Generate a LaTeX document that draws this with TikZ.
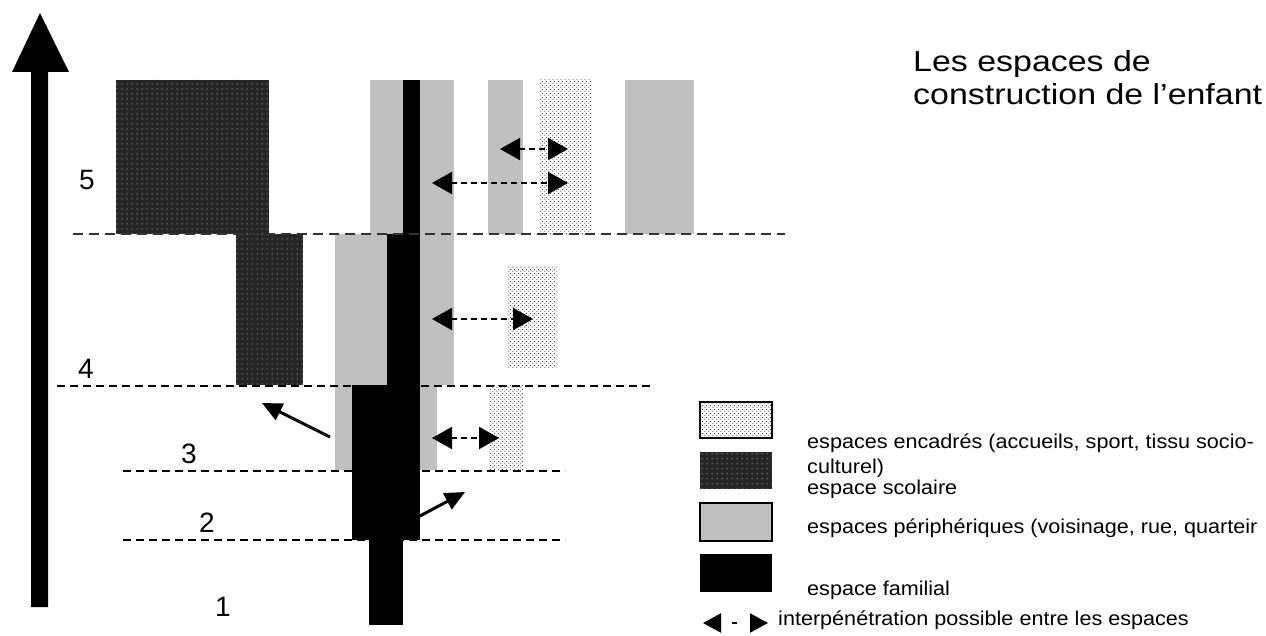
\documentclass[tikz,border=0pt]{standalone}
\usepackage{fontspec}
\setmainfont{Liberation Sans}
\usetikzlibrary{arrows.meta,patterns}
\definecolor{pgray}{HTML}{C0C0C0}
\definecolor{pdark}{HTML}{262626}
\pgfdeclarepatternformonly{lightdots}{\pgfqpoint{0pt}{0pt}}{\pgfqpoint{4pt}{4pt}}{\pgfqpoint{4pt}{4pt}}{%
  \pgfpathcircle{\pgfqpoint{1pt}{1pt}}{0.65pt}%
  \pgfpathcircle{\pgfqpoint{3pt}{3pt}}{0.65pt}%
  \pgfusepath{fill}}
\pgfdeclarepatternformonly{darkdots}{\pgfqpoint{0pt}{0pt}}{\pgfqpoint{5pt}{5pt}}{\pgfqpoint{5pt}{5pt}}{%
  \pgfpathcircle{\pgfqpoint{2.5pt}{2.5pt}}{0.6pt}%
  \pgfusepath{fill}}
\newcommand{\legstretch}[1]{\scalebox{1.08}[1]{#1}}
\newcommand{\titlestretch}[1]{\scalebox{1.17}[1]{#1}}
\tikzset{
  periph/.style={fill=pgray},
  famil/.style={fill=black},
  encad/.style={pattern=lightdots,pattern color=black!85},
  scol/.style={fill=pdark,postaction={pattern=darkdots,pattern color=white!80!black}},
  levelline/.style={line width=2.8pt,dash pattern=on 8pt off 5pt},
  topline/.style={line width=1.5pt,draw=black!80,dash pattern=on 10pt off 6pt},
  inter/.style={line width=2.2pt,dash pattern=on 6pt off 4pt,{Triangle[length=20pt,width=22pt]}-{Triangle[length=20pt,width=22pt]}},
  push/.style={line width=3pt,-{Triangle[length=20pt,width=18pt]}},
  digit/.style={font=\fontsize{28}{32}\selectfont},
  legtext/.style={anchor=base west,inner sep=0pt,font=\fontsize{20}{24}\selectfont},
  titletext/.style={anchor=base west,inner sep=0pt,font=\fontsize{29}{34}\selectfont}
}
\begin{document}
\begin{tikzpicture}[x=1pt,y=-1pt]
\useasboundingbox (0,0) rectangle (1266,636);
\fill[white] (0,0) rectangle (1266,636);
% big vertical arrow
\fill (31,607) -- (31,72) -- (12,72) -- (40,13) -- (69,72) -- (48,72) -- (48,607) -- cycle;
% peripheral spaces
\path[periph] (370,80) rectangle (454,234);
\path[periph] (488,80) rectangle (523,234);
\path[periph] (625,80) rectangle (694,234);
\path[periph] (335,234) rectangle (454,385);
\path[periph] (335,385) rectangle (437,470);
% family space
\path[famil] (403,80) rectangle (420,234);
\path[famil] (387,234) rectangle (420,385);
\path[famil] (352,385) rectangle (420,540);
\path[famil] (369,540) rectangle (403,625);
% structured spaces
\path[encad] (540,80) rectangle (591,234);
\path[encad] (507,267) rectangle (557,367);
\path[encad] (489,385) rectangle (523,470);
% school spaces
\path[scol] (116,80) rectangle (269,234);
\path[scol] (236,234) rectangle (303,385);
% level lines
\draw[topline] (73,234) -- (785,234);
\draw[levelline] (57,386) -- (650,386);
\draw[levelline] (123,471) -- (565,471);
\draw[levelline] (123,540) -- (565,540);
% interpenetration arrows
\coordinate (a1l) at (500,149); \coordinate (a1r) at (568,149);
\coordinate (a2l) at (432,183); \coordinate (a2r) at (568,183);
\coordinate (a3l) at (432,319); \coordinate (a3r) at (533,319);
\coordinate (a4l) at (432,438); \coordinate (a4r) at (499,438);
\draw[inter] (a1l) -- (a1r);
\draw[inter] (a2l) -- (a2r);
\draw[inter] (a3l) -- (a3r);
\draw[inter] (a4l) -- (a4r);
% push arrows
\coordinate (p1s) at (330,437); \coordinate (p1e) at (262,403);
\coordinate (p2s) at (418,517); \coordinate (p2e) at (465,492);
\draw[push] (p1s) -- (p1e);
\draw[push] (p2s) -- (p2e);
% level digits
\node[digit] (n5) at (87,180) {5};
\node[digit] (n4) at (86,369) {4};
\node[digit] (n3) at (189,454) {3};
\node[digit] (n2) at (207,523) {2};
\node[digit] (n1) at (223,607) {1};
% title
\node[titletext] (t1) at (913,72) {\titlestretch{Les espaces de}};
\node[titletext] (t2) at (913,105) {\titlestretch{construction de l’enfant}};
% legend
\draw[encad,draw=black,line width=2.5pt] (700,402) rectangle (772,438);
\path[scol] (700,452) rectangle (772,489);
\draw[periph,draw=black,line width=2.5pt] (700,503) rectangle (772,541);
\path[famil] (700,554) rectangle (772,592);
\coordinate (lgl) at (703,623); \coordinate (lgr) at (768,623);
\draw[line width=2pt,dash pattern=on 0pt off 11pt on 5pt off 60pt,{Triangle[length=18pt,width=19pt]}-{Triangle[length=18pt,width=19pt]}] (lgl) -- (lgr);
\node[legtext] (l1) at (807,448) {\legstretch{espaces encadrés (accueils, sport, tissu socio-}};
\node[legtext] (l2) at (807,473) {\legstretch{culturel)}};
\node[legtext] (l3) at (807,494) {\legstretch{espace scolaire}};
\node[legtext] (l4) at (807,533) {\legstretch{espaces périphériques (voisinage, rue, quarteir}};
\node[legtext] (l5) at (807,595) {\legstretch{espace familial}};
\node[legtext] (l6) at (778,625) {\legstretch{interpénétration possible entre les espaces}};
\end{tikzpicture}
\end{document}
